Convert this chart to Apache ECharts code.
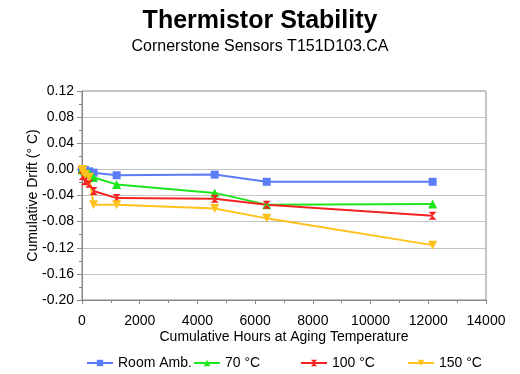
<!DOCTYPE html>
<html><head><meta charset="utf-8">
<script src="https://cdn.jsdelivr.net/npm/echarts@6/dist/echarts.min.js"></script>
<style>html,body{margin:0;padding:0;background:#fff}#c{width:520px;height:374px}</style>
</head><body><div id="c"></div>
<script>
const hours = [0, 24, 100, 250, 400, 1200, 4600, 6400, 12150];
const roomAmb = [0, 0, -0.001, -0.003, -0.005, -0.009, -0.008, -0.019, -0.019];
const c70 = [0, -0.001, -0.003, -0.006, -0.0125, -0.023, -0.036, -0.054, -0.053];
const c100 = [0, -0.010, -0.018, -0.022, -0.033, -0.044, -0.045, -0.054, -0.071];
const c150 = [0, -0.003, -0.008, -0.012, -0.054, -0.054, -0.060, -0.075, -0.116];
const seriesNames = ['Room Amb.', '70 °C', '100 °C', '150 °C'];
const xTicks = {min: 0, max: 14000, interval: 2000};
const yTicks = {min: -0.20, max: 0.12, interval: 0.04};

const colors = ['#5b7cf7', '#1ee61e', '#f52222', '#ffc21c'];
const symbols = ['rect', 'triangle', 'path://M0,0 L10,0 L0,10 L10,10 Z', 'path://M0,0 L10,0 L5,9 Z'];
const sizes = [8, 9, 8, 9];
const values = [roomAmb, c70, c100, c150];

const font = 'Liberation Sans, Arial, sans-serif';
const chart = echarts.init(document.getElementById('c'), null, {renderer: 'canvas'});
const legendLefts = [86, 193, 300, 407];
chart.setOption({
  backgroundColor: '#fff',
  animation: false,
  title: [
    {text: 'Thermistor Stability', left: 'center', top: 4,
     textStyle: {fontFamily: font, fontSize: 25, fontWeight: 'bold', color: '#000'}},
    {text: 'Cornerstone Sensors T151D103.CA', left: 'center', top: 34,
     textStyle: {fontFamily: font, fontSize: 16, fontWeight: 'normal', color: '#000'}}
  ],
  legend: seriesNames.map((n, i) => ({
    data: [n], left: legendLefts[i], top: 356, itemWidth: 26, itemHeight: 8, itemGap: 6,
    textStyle: {fontFamily: font, fontSize: 14, color: '#000'}, padding: 0
  })),
  grid: {left: 82, right: 34, top: 91, bottom: 74, show: true, borderColor: '#888', borderWidth: 1, backgroundColor: '#fff'},
  xAxis: {
    type: 'value', min: xTicks.min, max: xTicks.max, interval: xTicks.interval,
    name: 'Cumulative Hours at Aging Temperature', nameLocation: 'middle', nameGap: 30,
    nameMoveOverlap: false,
    nameTextStyle: {fontFamily: font, fontSize: 14, color: '#000'},
    axisLine: {onZero: false, lineStyle: {color: '#888'}},
    axisTick: {show: true, length: 4, lineStyle: {color: '#888'}},
    minorTick: {show: true, splitNumber: 2, length: 3, lineStyle: {color: '#888'}},
    axisLabel: {fontFamily: font, fontSize: 14, color: '#000', margin: 14,
      formatter: v => String(v)},
    splitLine: {show: false}
  },
  yAxis: {
    type: 'value', min: yTicks.min, max: yTicks.max, interval: yTicks.interval,
    name: 'Cumulative Drift (° C)', nameLocation: 'middle', nameGap: 42,
    nameMoveOverlap: false,
    nameTextStyle: {fontFamily: font, fontSize: 14, color: '#000'},
    axisLine: {show: true, lineStyle: {color: '#888'}},
    axisTick: {show: true, length: 5, lineStyle: {color: '#888'}},
    minorTick: {show: true, splitNumber: 2, length: 3, lineStyle: {color: '#888'}},
    axisLabel: {fontFamily: font, fontSize: 14, color: '#000', margin: 8,
      formatter: v => (Math.abs(v) < 1e-9 ? 0 : v).toFixed(2)},
    splitLine: {show: true, lineStyle: {color: '#c4c4c4', width: 1}}
  },
  series: seriesNames.map((n, i) => ({
    name: n, type: 'line', data: hours.map((h, j) => [h, values[i][j]]),
    symbol: symbols[i], symbolSize: sizes[i], showSymbol: true,
    itemStyle: {color: colors[i]}, lineStyle: {color: colors[i], width: 2}
  }))
});
</script></body></html>
